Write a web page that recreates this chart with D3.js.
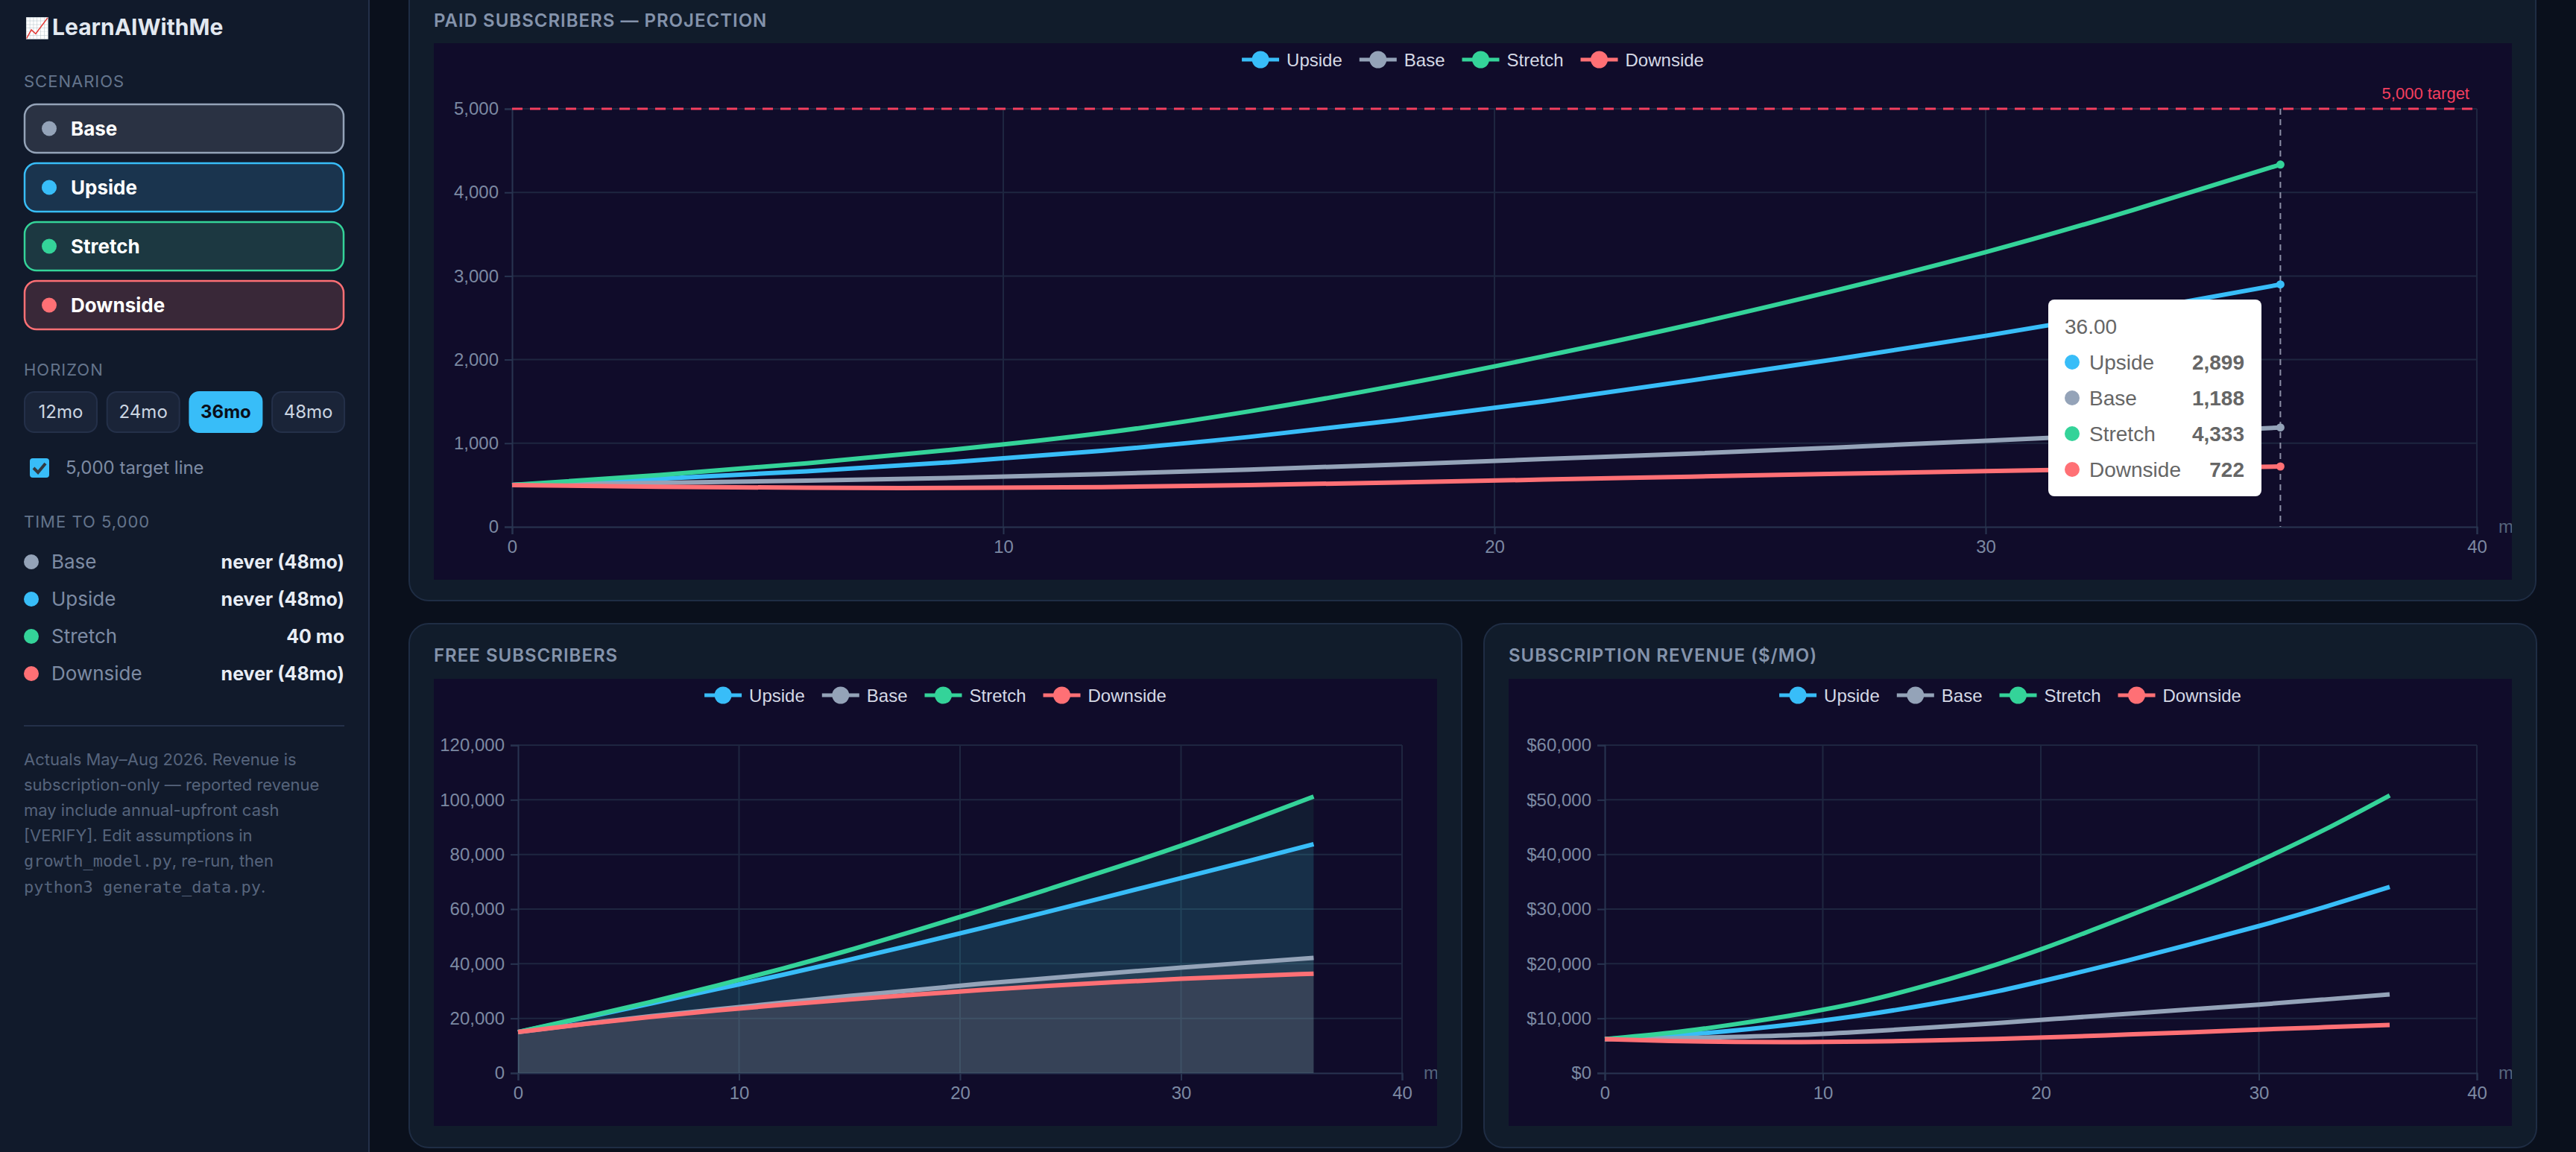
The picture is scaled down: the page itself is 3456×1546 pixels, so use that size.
<!DOCTYPE html>
<html>
<head>
<meta charset="utf-8">
<title>LearnAIWithMe</title>
<script src="https://cdn.jsdelivr.net/npm/d3@7"></script>
<style>
    html, body { margin: 0; padding: 0; background: #0a101c; overflow: hidden; }
    svg { display: block; }
    text { font-family: Inter, sans-serif; }
    .chart text { font-family: "Liberation Sans", Arial, sans-serif; }
</style>
</head>
<body>
<div id="page"></div>
<script>
// values, one point every 3 months
var months = [0, 3, 6, 9, 12, 15, 18, 21, 24, 27, 30, 33, 36];

var paidUpside = [500, 575, 665, 775, 910, 1075, 1275, 1500, 1750, 2010, 2285, 2580, 2899];
var paidBase = [500, 525, 552, 585, 630, 685, 745, 810, 875, 950, 1030, 1108, 1188];
var paidStretch = [500, 620, 760, 925, 1120, 1380, 1690, 2040, 2420, 2835, 3285, 3790, 4333];
var paidDownside = [500, 480, 467, 465, 475, 500, 530, 565, 600, 635, 667, 695, 722];

var freeUpside = [15000, 20200, 25400, 30700, 36000, 41500, 47200, 53100, 59100, 65200, 71360, 77500, 83780];
var freeBase = [15000, 18000, 20800, 23300, 25800, 28200, 30400, 32700, 34700, 36700, 38560, 40400, 42170];
var freeStretch = [15000, 20400, 26000, 32000, 38300, 45000, 52200, 59600, 67300, 75100, 83200, 92000, 101200];
var freeDownside = [15000, 17900, 20500, 22900, 25000, 26900, 28700, 30400, 31900, 33250, 34470, 35450, 36370];

var revUpside = [6200, 6850, 7800, 9100, 10700, 12650, 14950, 17700, 20600, 23700, 26900, 30350, 34060];
var revBase = [6200, 6350, 6600, 6980, 7600, 8340, 9150, 10000, 10850, 11680, 12520, 13450, 14400];
var revStretch = [6200, 7350, 8950, 10850, 13200, 16300, 19900, 24100, 28700, 33500, 38760, 44500, 50800];
var revDownside = [6200, 5850, 5680, 5650, 5760, 5950, 6250, 6620, 7050, 7480, 7950, 8370, 8780];

var xTicks = [0, 10, 20, 30, 40];
var paidTicks = [0, 1000, 2000, 3000, 4000, 5000];
var freeTicks = [0, 20000, 40000, 60000, 80000, 100000, 120000];
var revTicks = [0, 10000, 20000, 30000, 40000, 50000, 60000];

var legendOrder = ['Upside', 'Base', 'Stretch', 'Downside'];
var scenarioOrder = ['Base', 'Upside', 'Stretch', 'Downside'];
var horizons = ['12mo', '24mo', '36mo', '48mo'];
var timeTo5000 = ['never (48mo)', 'never (48mo)', '40 mo', 'never (48mo)'];
var tooltipValues = [2899, 1188, 4333, 722];

var colors = { Base: '#94a3b8', Upside: '#38bdf8', Stretch: '#34d399', Downside: '#ff7075' };
var tints = { Base: '#2a3243', Upside: '#1a344e', Stretch: '#1c3841', Downside: '#392838' };

var svg = d3.select('#page')
    .append('svg')
    .attr('width', 3456)
    .attr('height', 1546);

svg.append('rect')
    .attr('width', 3456)
    .attr('height', 1546)
    .attr('fill', '#0a101c');

function label(g, x, y, str, size, fill, weight, anchor) {
    return g.append('text')
        .attr('x', x)
        .attr('y', y)
        .attr('font-size', size)
        .attr('fill', fill)
        .attr('font-weight', weight || 400)
        .attr('text-anchor', anchor || 'start')
        .text(str);
}

function drawSidebar() {
    var g = svg.append('g').attr('class', 'sidebar');

    g.append('rect').attr('width', 494).attr('height', 1546).attr('fill', '#111a2b');
    g.append('rect').attr('x', 494).attr('width', 2).attr('height', 1546).attr('fill', '#243049');

    label(g, 33, 47, '📈', 27, '#e2e8f0');
    label(g, 70, 47, 'LearnAIWithMe', 30, '#e2e8f0', 700);

    label(g, 32, 117, 'SCENARIOS', 22, '#64748b').attr('letter-spacing', 1);

    scenarioOrder.forEach(function(name, i) {
        var top = 140 + i * 79;
        g.append('rect')
            .attr('x', 33).attr('y', top)
            .attr('width', 428).attr('height', 65)
            .attr('rx', 16)
            .attr('fill', tints[name])
            .attr('stroke', colors[name])
            .attr('stroke-width', 2.5);
        g.append('circle').attr('cx', 66).attr('cy', top + 32.5).attr('r', 10).attr('fill', colors[name]);
        label(g, 95, top + 42, name, 26, '#ffffff', 700);
    });

    label(g, 32, 504, 'HORIZON', 22, '#64748b').attr('letter-spacing', 1);

    horizons.forEach(function(h, i) {
        var active = h === '36mo';
        var left = 32 + i * 110.7;
        g.append('rect')
            .attr('x', left + 1).attr('y', 526)
            .attr('width', 97).attr('height', 54)
            .attr('rx', 13)
            .attr('fill', active ? '#38bdf8' : '#1a2438')
            .attr('stroke', active ? '#38bdf8' : '#243049')
            .attr('stroke-width', 2);
        label(g, left + 49.5, 561, h, 24, active ? '#0a0f1a' : '#cbd5e1', active ? 700 : 400, 'middle');
    });

    g.append('rect').attr('x', 40).attr('y', 615).attr('width', 26).attr('height', 26).attr('rx', 4).attr('fill', '#38bdf8');
    g.append('path').attr('d', 'M45 628 l6 6 l10 -12').attr('fill', 'none').attr('stroke', '#333a40').attr('stroke-width', 4);
    label(g, 88, 636, '5,000 target line', 24, '#7d8ba3');

    label(g, 32, 708, 'TIME TO 5,000', 22, '#64748b').attr('letter-spacing', 1);

    scenarioOrder.forEach(function(name, i) {
        var cy = 754 + i * 50;
        g.append('circle').attr('cx', 42).attr('cy', cy).attr('r', 10).attr('fill', colors[name]);
        label(g, 69, cy + 9, name, 26, '#7d8ba3');
        label(g, 462, cy + 9, timeTo5000[i], 25, '#e8edf5', 700, 'end');
    });

    g.append('rect').attr('x', 32).attr('y', 973).attr('width', 430).attr('height', 2).attr('fill', '#243049');

    var noteLines = [
        [['Actuals May–Aug 2026. Revenue is', 0]],
        [['subscription-only — reported revenue', 0]],
        [['may include annual-upfront cash', 0]],
        [['[VERIFY]. Edit assumptions in', 0]],
        [['growth_model.py', 1], [', re-run, then', 0]],
        [['python3 generate_data.py', 1], ['.', 0]]
    ];
    noteLines.forEach(function(parts, i) {
        var t = label(g, 32, 1027 + i * 34.1, null, 22, '#56647c');
        parts.forEach(function(p) {
            t.append('tspan')
                .style('font-family', p[1] ? '"DejaVu Sans Mono", monospace' : 'Inter, sans-serif')
                .text(p[0]);
        });
    });
}

function drawChart(cfg) {
    // card and dark canvas
    svg.append('rect')
        .attr('x', cfg.card[0]).attr('y', cfg.card[1])
        .attr('width', cfg.card[2]).attr('height', cfg.card[3])
        .attr('rx', 26)
        .attr('fill', '#111c2b')
        .attr('stroke', '#1f2d44')
        .attr('stroke-width', 2);

    label(svg, cfg.canvas[0], cfg.titleY, cfg.title, 24, '#8493ab', 600).attr('letter-spacing', 1);

    var clipId = 'clip-' + cfg.id;
    svg.append('clipPath').attr('id', clipId).append('rect')
        .attr('x', cfg.canvas[0]).attr('y', cfg.canvas[1])
        .attr('width', cfg.canvas[2]).attr('height', cfg.canvas[3]);

    var chartGroup = svg.append('g')
        .attr('class', 'chart')
        .attr('clip-path', 'url(#' + clipId + ')');

    chartGroup.append('rect')
        .attr('x', cfg.canvas[0]).attr('y', cfg.canvas[1])
        .attr('width', cfg.canvas[2]).attr('height', cfg.canvas[3])
        .attr('fill', '#100c2a');

    var xScale = d3.scaleLinear().domain([0, 40]).range([cfg.plot.left, cfg.plot.right]);
    var yScale = d3.scaleLinear().domain([0, cfg.yMax]).range([cfg.plot.bottom, cfg.plot.top]);

    // grid
    chartGroup.append('g').selectAll('line')
        .data(cfg.yTicks.slice(1))
        .enter()
        .append('line')
        .attr('x1', cfg.plot.left).attr('x2', cfg.plot.right)
        .attr('y1', function(d) { return yScale(d); })
        .attr('y2', function(d) { return yScale(d); })
        .attr('stroke', '#1e2640').attr('stroke-width', 2);

    chartGroup.append('g').selectAll('line')
        .data(xTicks.slice(1))
        .enter()
        .append('line')
        .attr('x1', function(d) { return xScale(d); })
        .attr('x2', function(d) { return xScale(d); })
        .attr('y1', cfg.plot.top).attr('y2', cfg.plot.bottom)
        .attr('stroke', '#1e2640').attr('stroke-width', 2);

    // axes
    var xAxis = d3.axisBottom(xScale).tickValues(xTicks).tickSize(10).tickPadding(8).tickFormat(d3.format('d'));
    var yAxis = d3.axisLeft(yScale).tickValues(cfg.yTicks).tickSize(10).tickPadding(8).tickFormat(cfg.yFormat);

    var axes = [
        chartGroup.append('g').attr('transform', 'translate(0,' + cfg.plot.bottom + ')').call(xAxis),
        chartGroup.append('g').attr('transform', 'translate(' + cfg.plot.left + ',0)').call(yAxis)
    ];
    axes.forEach(function(a) {
        a.select('.domain').attr('stroke', '#283450').attr('stroke-width', 2);
        a.selectAll('line').attr('stroke', '#283450').attr('stroke-width', 2);
        a.selectAll('text').attr('fill', '#7c89a2').attr('font-size', 24);
    });

    label(chartGroup, cfg.canvas[0] + cfg.canvas[2] - 18, cfg.plot.bottom + 8, 'm', 24, '#56647c');

    var line = d3.line()
        .x(function(d) { return xScale(d[0]); })
        .y(function(d) { return yScale(d[1]); })
        .curve(d3.curveNatural);

    var area = d3.area()
        .x(function(d) { return xScale(d[0]); })
        .y0(yScale(0))
        .y1(function(d) { return yScale(d[1]); })
        .curve(d3.curveNatural);

    legendOrder.forEach(function(name) {
        var points = months.map(function(m, i) { return [m, cfg.series[name][i]]; });
        if (cfg.areas) {
            chartGroup.append('path')
                .attr('d', area(points))
                .attr('fill', colors[name])
                .attr('fill-opacity', cfg.areas[name]);
        }
    });

    legendOrder.forEach(function(name) {
        var points = months.map(function(m, i) { return [m, cfg.series[name][i]]; });
        chartGroup.append('path')
            .attr('d', line(points))
            .attr('fill', 'none')
            .attr('stroke', colors[name])
            .attr('stroke-width', 6);
    });

    // legend, centred on the canvas
    var legendGroup = chartGroup.append('g');
    var cursor = 0;
    legendOrder.forEach(function(name) {
        legendGroup.append('line')
            .attr('x1', cursor).attr('x2', cursor + 50)
            .attr('y1', cfg.legendY).attr('y2', cfg.legendY)
            .attr('stroke', colors[name]).attr('stroke-width', 5);
        legendGroup.append('circle')
            .attr('cx', cursor + 25).attr('cy', cfg.legendY).attr('r', 11.5)
            .attr('fill', colors[name]);
        var t = label(legendGroup, cursor + 60, cfg.legendY + 8.5, name, 24, '#d5d9e5');
        cursor += 60 + t.node().getComputedTextLength() + 23;
    });
    cursor -= 23;
    legendGroup.attr('transform', 'translate(' + (cfg.canvas[0] + (cfg.canvas[2] - cursor) / 2) + ',0)');

    if (cfg.target) {
        chartGroup.append('line')
            .attr('x1', cfg.plot.left).attr('x2', cfg.plot.right)
            .attr('y1', yScale(5000)).attr('y2', yScale(5000))
            .attr('stroke', '#f43f5e').attr('stroke-width', 3)
            .attr('stroke-dasharray', '14 10');
        label(chartGroup, cfg.plot.right - 10, yScale(5000) - 13, '5,000 target', 22, '#f43f5e', 400, 'end');

        chartGroup.append('line')
            .attr('x1', xScale(36)).attr('x2', xScale(36))
            .attr('y1', yScale(5000)).attr('y2', yScale(0))
            .attr('stroke', '#8c8fa6').attr('stroke-width', 2)
            .attr('stroke-dasharray', '8 6');

        legendOrder.forEach(function(name) {
            chartGroup.append('circle')
                .attr('cx', xScale(36))
                .attr('cy', yScale(cfg.series[name][months.length - 1]))
                .attr('r', 5.5)
                .attr('fill', colors[name]);
        });
        drawTooltip(chartGroup);
    }
}

function drawTooltip(g) {
    g.append('rect')
        .attr('x', 2748).attr('y', 402)
        .attr('width', 286).attr('height', 264)
        .attr('rx', 8)
        .attr('fill', '#ffffff');
    label(g, 2770, 448, '36.00', 28, '#666666');
    legendOrder.forEach(function(name, i) {
        var cy = 486 + i * 48;
        g.append('circle').attr('cx', 2780).attr('cy', cy).attr('r', 10).attr('fill', colors[name]);
        label(g, 2803, cy + 10, name, 28, '#666666');
        label(g, 3011, cy + 10, d3.format(',')(tooltipValues[i]), 28, '#666666', 700, 'end');
    });
}

drawSidebar();

drawChart({
    id: 'paid',
    title: 'PAID SUBSCRIBERS — PROJECTION',
    titleY: 36,
    card: [549, -60, 2853, 866],
    canvas: [582, 58, 2788, 720],
    plot: { left: 687, right: 3323, top: 146, bottom: 707 },
    yMax: 5000,
    yTicks: paidTicks,
    yFormat: d3.format(','),
    legendY: 80,
    series: { Upside: paidUpside, Base: paidBase, Stretch: paidStretch, Downside: paidDownside },
    target: true
});

drawChart({
    id: 'free',
    title: 'FREE SUBSCRIBERS',
    titleY: 888,
    card: [549, 837, 1412, 703],
    canvas: [582, 911, 1346, 600],
    plot: { left: 695, right: 1881, top: 1000, bottom: 1440 },
    yMax: 120000,
    yTicks: freeTicks,
    yFormat: d3.format(','),
    legendY: 933,
    series: { Upside: freeUpside, Base: freeBase, Stretch: freeStretch, Downside: freeDownside },
    areas: { Upside: 0.12, Base: 0.12, Stretch: 0.08, Downside: 0.08 }
});

drawChart({
    id: 'rev',
    title: 'SUBSCRIPTION REVENUE ($/MO)',
    titleY: 888,
    card: [1991, 837, 1412, 703],
    canvas: [2024, 911, 1346, 600],
    plot: { left: 2153, right: 3323, top: 1000, bottom: 1440 },
    yMax: 60000,
    yTicks: revTicks,
    yFormat: function(d) { return '$' + d3.format(',')(d); },
    legendY: 933,
    series: { Upside: revUpside, Base: revBase, Stretch: revStretch, Downside: revDownside }
});
</script>
</body>
</html>
